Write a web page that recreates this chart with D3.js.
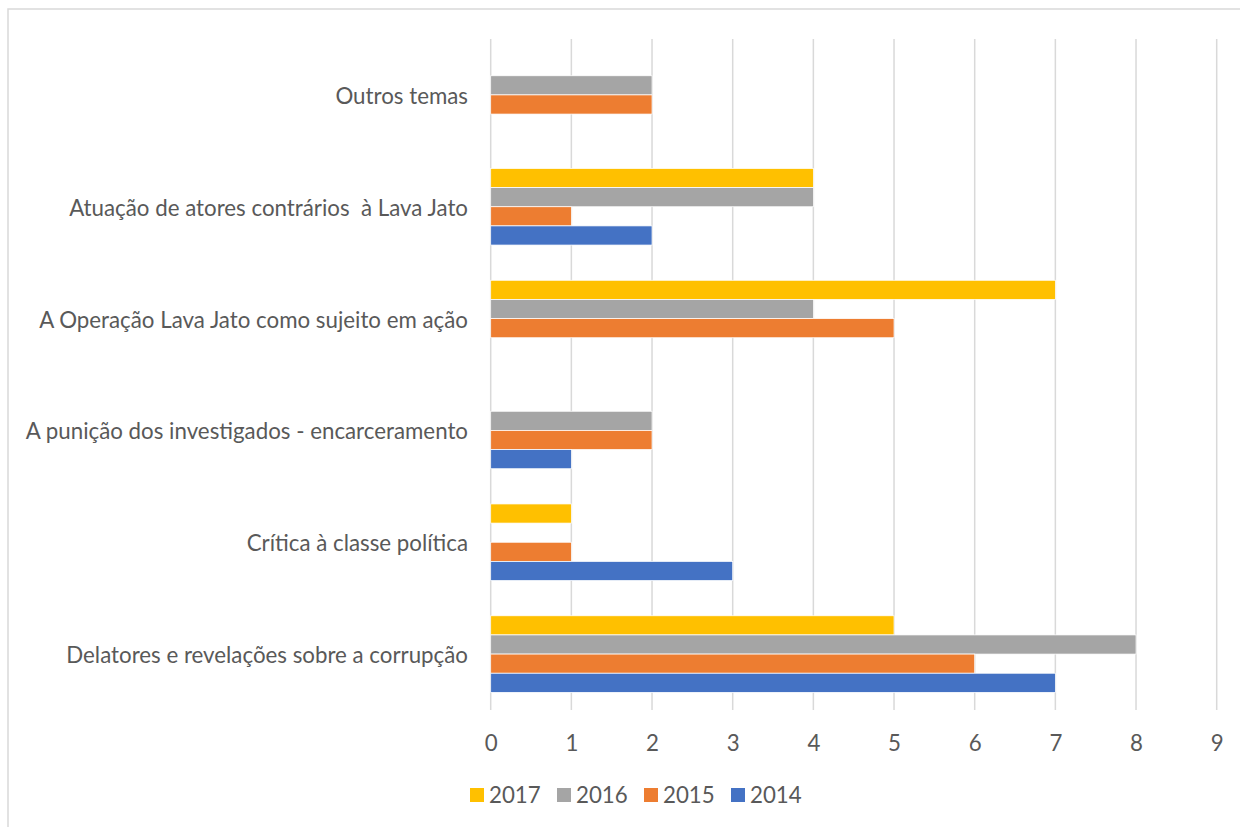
<!DOCTYPE html>
<html>
<head>
<meta charset="utf-8">
<script src="https://cdn.jsdelivr.net/npm/d3@7"></script>
<style>
  html, body { margin: 0; padding: 0; background: #fff; }
  svg { display: block; }
  svg text { white-space: pre; }
</style>
</head>
<body>
<svg id="chart" width="1240" height="827"></svg>
<script>
// ---- data ----
const categories = [
  "Outros temas",
  "Atuação de atores contrários  à Lava Jato",
  "A Operação Lava Jato como sujeito em ação",
  "A punição dos investigados - encarceramento",
  "Crítica à classe política",
  "Delatores e revelações sobre a corrupção"
];
const seriesNames = ["2017", "2016", "2015", "2014"];
const values2017 = [0, 4, 7, 0, 1, 5];
const values2016 = [2, 4, 4, 2, 0, 8];
const values2015 = [2, 1, 5, 2, 1, 6];
const values2014 = [0, 2, 0, 1, 3, 7];
const tickValues = [0, 1, 2, 3, 4, 5, 6, 7, 8, 9];
const colors = ["#FFC000", "#A5A5A5", "#ED7D31", "#4472C4"];

const seriesValues = [values2017, values2016, values2015, values2014];

// ---- layout ----
const W = 1240, H = 827;
const plot = { left: 490.7, right: 1216.7, top: 39, bottom: 710 };
const FONT = "Lato, 'Open Sans', sans-serif";
const textColor = "#595959";
const gridColor = "#D9D9D9";

const svg = d3.select("#chart");

// outer chart border
svg.append("rect")
  .attr("x", 8).attr("y", 9)
  .attr("width", W + 20).attr("height", H + 20)
  .attr("fill", "#fff")
  .attr("stroke", gridColor).attr("stroke-width", 1.5);

const x = d3.scaleLinear().domain([0, 9]).range([plot.left, plot.right]);
const y = d3.scaleBand().domain(categories).range([plot.top, plot.bottom])
  .paddingInner(0.315).paddingOuter(0.1575);
const ySub = d3.scaleBand().domain(seriesNames).range([0, y.bandwidth()]);

// fit font size so longest label ≈ 402 px
const probe = svg.append("text").attr("font-family", FONT).attr("font-size", 20)
  .text(categories[5]);
const w20 = probe.node().getComputedTextLength();
probe.remove();
const fs = Math.max(14, Math.min(26, 20 * 402 / w20));

// gridlines
svg.append("g").selectAll("line").data(tickValues).join("line")
  .attr("x1", d => x(d)).attr("x2", d => x(d))
  .attr("y1", plot.top).attr("y2", plot.bottom)
  .attr("stroke", gridColor).attr("stroke-width", 1.5);

// bars
const groups = svg.append("g").selectAll("g").data(categories).join("g")
  .attr("transform", c => `translate(0,${y(c)})`);
groups.selectAll("rect")
  .data((c, ci) => seriesNames.map((s, si) => ({ s, si, v: seriesValues[si][ci] })))
  .join("rect")
  .filter(d => d.v > 0)
  .attr("x", x(0))
  .attr("y", d => ySub(d.s))
  .attr("width", d => x(d.v) - x(0))
  .attr("height", ySub.bandwidth())
  .attr("fill", d => colors[d.si])
  .attr("stroke", "#fff").attr("stroke-width", 0.75);

// x axis labels
const xAxis = d3.axisBottom(x).tickValues(tickValues).tickSize(0).tickPadding(0);
const gx = svg.append("g").attr("transform", `translate(0,${plot.bottom})`).call(xAxis);
gx.select(".domain").remove();
gx.selectAll("text")
  .attr("font-family", FONT).attr("font-size", fs).attr("fill", textColor)
  .attr("dy", null).attr("y", 41);

// y axis labels
const yAxis = d3.axisLeft(y).tickSize(0).tickPadding(0);
const gy = svg.append("g").attr("transform", `translate(468,0)`).call(yAxis);
gy.select(".domain").remove();
gy.selectAll("text")
  .attr("font-family", FONT).attr("font-size", fs).attr("fill", textColor)
  .attr("dy", null).attr("y", 9).attr("x", 0);

// legend
const legend = svg.append("g");
seriesNames.forEach((s, i) => {
  const lx = 470 + i * 87;
  legend.append("rect").attr("x", lx).attr("y", 788).attr("width", 14).attr("height", 14)
    .attr("fill", colors[i]);
  legend.append("text").attr("x", lx + 19).attr("y", 803)
    .attr("font-family", FONT).attr("font-size", fs).attr("fill", textColor).text(s);
});
</script>
</body>
</html>
